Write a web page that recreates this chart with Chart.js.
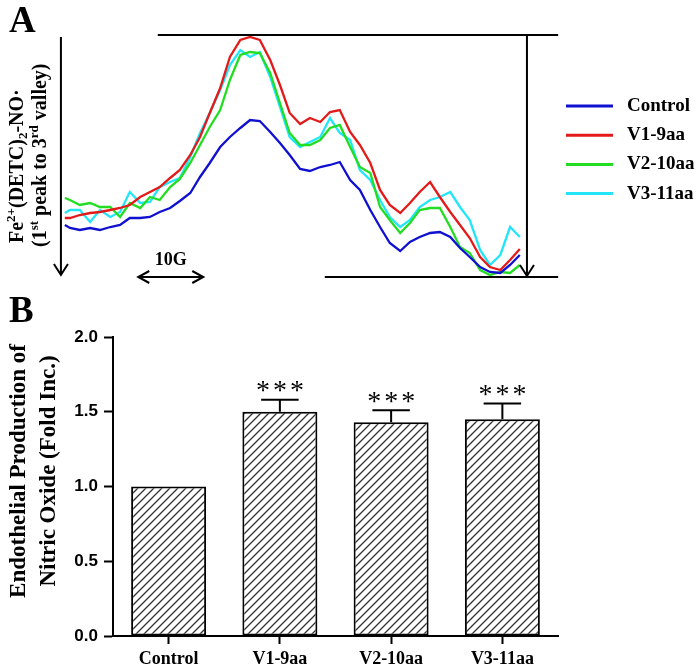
<!DOCTYPE html>
<html>
<head>
<meta charset="utf-8">
<script src="https://cdn.jsdelivr.net/npm/chart.js@4.4.1/dist/chart.umd.min.js"></script>
<style>
  html, body { margin: 0; padding: 0; background: #fff; }
  #wrap { position: relative; width: 696px; height: 671px; }
  #spectra { position: absolute; left: 0; top: 0; }
  #bars { position: absolute; left: 0; top: 290px; }
</style>
</head>
<body>
<div id="wrap">
  <canvas id="spectra" width="696" height="290"></canvas>
  <canvas id="bars" width="696" height="381"></canvas>
</div>
<script>
// --- Panel A: EPR spectra (field in G, signal in a.u.) ---
const fieldG = [-0.8, 0, 1.5, 3.1, 4.6, 6.2, 7.7, 9.2, 10.8, 12.3, 13.8, 15.4, 16.9, 18.5, 20.0, 21.5,
  23.1, 24.6, 26.2, 27.7, 29.2, 30.8, 32.3, 33.8, 35.4, 36.9, 38.5, 40.0, 41.5, 43.1, 44.6, 46.2,
  47.7, 49.2, 50.8, 52.3, 53.8, 55.4, 56.9, 58.5, 60.0, 61.5, 63.1, 64.6, 66.2, 67.7, 69.2];
const seriesNames = ['Control', 'V1-9aa', 'V2-10aa', 'V3-11aa'];
const controlSignal = [52, 49, 47, 49, 47, 50, 52, 59, 59, 60, 65, 69, 76, 84, 100, 114, 130, 140, 149, 157,
  156, 145, 134, 122, 108, 106, 110, 112, 115, 97, 87, 67, 50, 34, 26, 35, 40, 44, 45, 40, 29, 20, 10, 5, 4, 12, 22];
const v1Signal = [59, 59, 62, 64, 65, 67, 69, 72, 80, 85, 90, 99, 107, 122, 140, 164, 189, 220, 237, 240,
  237, 217, 192, 164, 153, 159, 155, 165, 167, 145, 132, 114, 87, 72, 64, 74, 85, 95, 80, 65, 52, 39, 20, 10, 7, 17, 28];
const v2Signal = [79, 77, 72, 74, 70, 70, 60, 74, 69, 80, 77, 90, 98, 114, 132, 150, 167, 197, 222, 225,
  224, 204, 174, 144, 132, 132, 137, 149, 152, 130, 110, 104, 70, 57, 44, 54, 67, 69, 69, 50, 30, 24, 7, 2, 5, 4, 12];
const v3Signal = [64, 67, 67, 55, 67, 60, 65, 85, 74, 75, 90, 95, 99, 120, 144, 164, 187, 212, 227, 220,
  225, 200, 170, 140, 130, 135, 140, 159, 144, 137, 107, 97, 77, 60, 50, 57, 70, 77, 80, 85, 70, 57, 27, 12, 22, 50, 40];

// --- Panel B: NO production ---
const groups = ['Control', 'V1-9aa', 'V2-10aa', 'V3-11aa'];
const foldMean = [1.0, 1.50, 1.43, 1.45];
const foldSem = [0, 0.08, 0.08, 0.105];
const signif = ['', '***', '***', '***'];

const lineColors = ['#1010d0', '#e41a1a', '#22dd22', '#22e6f8'];
const SERIF = '"Liberation Serif", "Times New Roman", serif';

function richText(ctx, parts, x, y, size) {
  let cx = x;
  parts.forEach(([t, kind]) => {
    const s = kind ? size * 0.65 : size;
    ctx.font = `bold ${s}px ${SERIF}`;
    const dy = kind === 'sup' ? -size * 0.38 : kind === 'sub' ? size * 0.22 : 0;
    ctx.fillText(t, cx, y + dy);
    cx += ctx.measureText(t).width;
  });
}

function downArrow(ctx, px, y0, y1) {
  ctx.beginPath();
  ctx.moveTo(px, y0); ctx.lineTo(px, y1);
  ctx.moveTo(px - 7, y1 - 11); ctx.lineTo(px, y1); ctx.lineTo(px + 7, y1 - 11);
  ctx.stroke();
}

const spectraDecor = {
  id: 'spectraDecor',
  afterDraw(chart) {
    const { ctx, scales: { x, y } } = chart;
    const yTop = y.getPixelForValue(y.max);
    const yBot = y.getPixelForValue(y.min);
    ctx.save();
    ctx.strokeStyle = '#000';
    ctx.fillStyle = '#000';
    ctx.lineWidth = 2;

    // peak / valley reference lines
    ctx.beginPath();
    ctx.moveTo(x.getPixelForValue(13.5), yTop); ctx.lineTo(x.getPixelForValue(75.1), yTop);
    ctx.moveTo(x.getPixelForValue(39.2), yBot); ctx.lineTo(x.getPixelForValue(75.1), yBot);
    ctx.stroke();

    downArrow(ctx, x.getPixelForValue(-1.4), yTop + 2, yBot - 2);
    downArrow(ctx, x.getPixelForValue(70.3), yTop, yBot - 1);

    // 10 G scale bar
    const g0 = x.getPixelForValue(10.5), g1 = x.getPixelForValue(20.5);
    ctx.beginPath();
    ctx.moveTo(g0, yBot); ctx.lineTo(g1, yBot);
    ctx.moveTo(g0 + 11, yBot - 6); ctx.lineTo(g0, yBot); ctx.lineTo(g0 + 11, yBot + 6);
    ctx.moveTo(g1 - 11, yBot - 6); ctx.lineTo(g1, yBot); ctx.lineTo(g1 - 11, yBot + 6);
    ctx.stroke();
    ctx.font = `bold 18px ${SERIF}`;
    ctx.textAlign = 'center';
    ctx.textBaseline = 'alphabetic';
    ctx.fillText('10G', (g0 + g1) / 2, yBot - 12);

    // panel letter
    ctx.textAlign = 'left';
    ctx.font = `bold 37px ${SERIF}`;
    ctx.fillText('A', 9, 32);

    // y title (rotated)
    ctx.save();
    ctx.rotate(-Math.PI / 2);
    richText(ctx, [['Fe', ''], ['2+', 'sup'], ['(DETC)', ''], ['2', 'sub'], ['-NO\u00B7', '']], -243, 23, 20);
    richText(ctx, [['(1', ''], ['st', 'sup'], [' peak to 3', ''], ['rd', 'sup'], [' valley)', '']], -247, 46, 20);
    ctx.restore();

    // legend
    ctx.textBaseline = 'middle';
    ctx.font = `bold 19px ${SERIF}`;
    chart.data.datasets.forEach((ds, i) => {
      const ry = 106 + i * 29.2;
      ctx.strokeStyle = ds.borderColor;
      ctx.lineWidth = 3;
      ctx.beginPath(); ctx.moveTo(566, ry); ctx.lineTo(613, ry); ctx.stroke();
      ctx.fillText(ds.label, 627, ry);
    });
    ctx.restore();
  }
};

const spectraData = [controlSignal, v1Signal, v2Signal, v3Signal];
const spectraChart = new Chart(document.getElementById('spectra'), {
  type: 'line',
  data: {
    datasets: seriesNames.map((name, i) => ({
      label: name,
      data: fieldG.map((f, j) => ({ x: f, y: spectraData[i][j] })),
      borderColor: lineColors[i],
      borderWidth: 2.3,
      pointRadius: 0,
      tension: 0,
      fill: false,
      clip: false
    }))
  },
  options: {
    responsive: false,
    animation: false,
    layout: { padding: { left: 63, right: 171, top: 35, bottom: 13 } },
    scales: {
      x: { type: 'linear', min: -1.08, max: 70, display: false },
      y: { min: 0, max: 242, display: false }
    },
    plugins: { legend: { display: false }, tooltip: { enabled: false } }
  },
  plugins: [spectraDecor]
});

// hatch fill for bars
function makeHatch() {
  const c = document.createElement('canvas');
  c.width = 8; c.height = 8;
  const g = c.getContext('2d');
  g.fillStyle = '#fff';
  g.fillRect(0, 0, 8, 8);
  g.strokeStyle = '#333';
  g.lineWidth = 1.3;
  g.beginPath();
  g.moveTo(-8, 8); g.lineTo(8, -8);
  g.moveTo(0, 8); g.lineTo(8, 0);
  g.moveTo(0, 16); g.lineTo(16, 0);
  g.stroke();
  return g.createPattern(c, 'repeat');
}

const errorBars = {
  id: 'errorBars',
  afterDatasetsDraw(chart) {
    const { ctx, scales: { y } } = chart;
    const meta = chart.getDatasetMeta(0);
    ctx.save();
    ctx.strokeStyle = '#000';
    ctx.fillStyle = '#000';
    ctx.lineWidth = 2;
    meta.data.forEach((bar, i) => {
      if (!foldSem[i]) return;
      const top = y.getPixelForValue(foldMean[i] + foldSem[i]);
      const half = bar.width / 4;
      ctx.beginPath();
      ctx.moveTo(bar.x, bar.y); ctx.lineTo(bar.x, top);
      ctx.moveTo(bar.x - half, top); ctx.lineTo(bar.x + half, top);
      ctx.stroke();
      if (signif[i]) {
        ctx.font = `28px ${SERIF}`;
        ctx.textAlign = 'center';
        ctx.textBaseline = 'alphabetic';
        const m = ctx.measureText('*');
        const cy = top - 13;
        const base = cy + (m.actualBoundingBoxAscent - m.actualBoundingBoxDescent) / 2;
        [...signif[i]].forEach((s, k) => ctx.fillText(s, bar.x + (k - 1) * 17, base));
      }
    });
    ctx.restore();
  },
  afterDraw(chart) {
    const { ctx } = chart;
    ctx.save();
    ctx.fillStyle = '#000';
    ctx.textAlign = 'left';
    ctx.textBaseline = 'alphabetic';
    ctx.font = `bold 37px ${SERIF}`;
    ctx.fillText('B', 9, 32);
    ctx.translate(0, 181);
    ctx.rotate(-Math.PI / 2);
    ctx.textAlign = 'center';
    ctx.textBaseline = 'middle';
    ctx.font = `bold 23px ${SERIF}`;
    ctx.fillText('Endothelial Production of', 0, 19);
    ctx.fillText('Nitric Oxide (Fold Inc.)', 0, 49);
    ctx.restore();
  }
};

const barChart = new Chart(document.getElementById('bars'), {
  type: 'bar',
  data: {
    labels: groups,
    datasets: [{
      data: foldMean,
      backgroundColor: makeHatch(),
      borderColor: '#000',
      borderWidth: 2,
      borderSkipped: false,
      barPercentage: 0.674,
      categoryPercentage: 1
    }]
  },
  options: {
    responsive: false,
    animation: false,
    layout: { padding: { left: 0, right: 138, top: 47, bottom: 0 } },
    scales: {
      x: {
        grid: { offset: false, drawOnChartArea: false, drawTicks: true, tickLength: 8, tickWidth: 2, tickColor: '#000' },
        border: { color: '#000', width: 2 },
        ticks: { color: '#000', padding: 5, font: { family: 'Liberation Serif', weight: 'bold', size: 18 } },
        afterFit(s) { s.height = 35; }
      },
      y: {
        min: 0, max: 2,
        grid: { drawOnChartArea: false, drawTicks: true, tickLength: 9, tickWidth: 2, tickColor: '#000' },
        border: { color: '#000', width: 2 },
        ticks: { stepSize: 0.5, padding: 6, color: '#000', callback: v => v.toFixed(1),
          font: { family: 'Liberation Sans', weight: 'bold', size: 17 } },
        afterFit(s) { s.width = 113; }
      }
    },
    plugins: { legend: { display: false }, tooltip: { enabled: false } }
  },
  plugins: [errorBars]
});
</script>
</body>
</html>
